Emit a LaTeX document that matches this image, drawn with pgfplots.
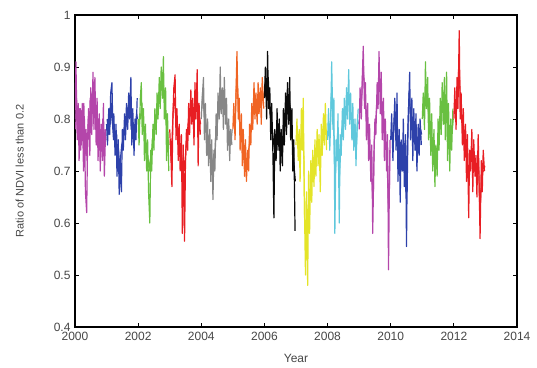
\documentclass[border=0pt]{standalone}
\usepackage{pgfplots}
\usepackage{pgfplotstable}
\pgfplotsset{compat=1.18}
\usepackage{fontspec}
\setmainfont{Liberation Sans}
\definecolor{cMag}{RGB}{180,70,170}
\definecolor{cBlue}{RGB}{45,65,170}
\definecolor{cGreen}{RGB}{105,192,65}
\definecolor{cRed}{RGB}{232,30,35}
\definecolor{cGray}{RGB}{135,135,135}
\definecolor{cOrange}{RGB}{240,100,35}
\definecolor{cBlack}{RGB}{10,10,10}
\definecolor{cYellow}{RGB}{228,228,40}
\definecolor{cCyan}{RGB}{95,200,220}
\definecolor{txt}{RGB}{70,70,70}

% primary samples
\pgfplotstableread{
f    a    b    c    d     e     g    h    i    j    k    l     m    n
0.00 0.80 0.79 0.80 0.78  0.80  0.78 0.84 0.75 0.76 0.78 0.76  0.80 0.80
0.03 0.91 0.75 0.75 0.74  0.84  0.83 0.90 0.80 0.82 0.86 0.81  0.85 0.86
0.07 0.76 0.82 0.84 0.67  0.88  0.76 0.80 0.72 0.74 0.80 0.72  0.78 0.78
0.10 0.83 0.77 0.87 0.80  0.76  0.85 0.93 0.78 0.80 0.88 0.79  0.91 0.88
0.13 0.72 0.85 0.77 0.86  0.83  0.93 0.82 0.68 0.91 0.94 0.84  0.82 0.82
0.17 0.82 0.87 0.82 0.885 0.73  0.80 0.86 0.82 0.78 0.82 0.74  0.88 0.97
0.20 0.75 0.78 0.72 0.76  0.80  0.84 0.76 0.74 0.84 0.87 0.85  0.76 0.80
0.23 0.83 0.81 0.79 0.82  0.71  0.74 0.83 0.84 0.58 0.76 0.68  0.84 0.85
0.27 0.70 0.73 0.70 0.72  0.78  0.81 0.73 0.62 0.76 0.83 0.78  0.73 0.75
0.30 0.80 0.79 0.76 0.79  0.68  0.71 0.61 0.50 0.72 0.72 0.64  0.81 0.82
0.33 0.66 0.69 0.66 0.70  0.76  0.78 0.78 0.66 0.81 0.79 0.76  0.70 0.72
0.37 0.62 0.76 0.60 0.77  0.645 0.69 0.72 0.48 0.60 0.68 0.70  0.78 0.79
0.40 0.76 0.655 0.74 0.58 0.74  0.76 0.82 0.70 0.77 0.75 0.80  0.67 0.68
0.43 0.82 0.72 0.70 0.75  0.70  0.68 0.74 0.58 0.73 0.58 0.67  0.75 0.77
0.47 0.73 0.66 0.79 0.565 0.81  0.74 0.80 0.72 0.82 0.73 0.77  0.69 0.61
0.50 0.86 0.78 0.74 0.72  0.76  0.70 0.70 0.64 0.76 0.80 0.555 0.80 0.74
0.53 0.77 0.74 0.82 0.78  0.85  0.79 0.78 0.74 0.84 0.77 0.75  0.74 0.70
0.57 0.89 0.81 0.77 0.74  0.80  0.75 0.71 0.67 0.78 0.87 0.83  0.84 0.78
0.60 0.78 0.76 0.85 0.83  0.90  0.83 0.82 0.76 0.86 0.82 0.89  0.77 0.66
0.63 0.88 0.83 0.80 0.77  0.81  0.78 0.75 0.69 0.80 0.93 0.76  0.87 0.76
0.67 0.75 0.78 0.88 0.856 0.86  0.87 0.85 0.78 0.895 0.81 0.84 0.79 0.69
0.70 0.84 0.85 0.82 0.79  0.78  0.80 0.77 0.71 0.79 0.89 0.72  0.88 0.73
0.73 0.72 0.80 0.90 0.84  0.88  0.85 0.87 0.77 0.85 0.76 0.82  0.76 0.65
0.77 0.81 0.88 0.84 0.75  0.79  0.79 0.79 0.66 0.76 0.84 0.74  0.89 0.77
0.80 0.70 0.75 0.92 0.87  0.84  0.87 0.88 0.79 0.83 0.72 0.81  0.72 0.68
0.83 0.79 0.82 0.80 0.80  0.74  0.81 0.76 0.73 0.74 0.80 0.70  0.83 0.57
0.87 0.72 0.73 0.86 0.895 0.80  0.86 0.82 0.81 0.80 0.70 0.79  0.70 0.72
0.90 0.83 0.80 0.72 0.71  0.72  0.79 0.70 0.75 0.71 0.77 0.73  0.80 0.66
0.93 0.69 0.76 0.81 0.83  0.78  0.88 0.76 0.83 0.78 0.51 0.80  0.74 0.74
0.97 0.78 0.84 0.70 0.77  0.75  0.83 0.585 0.74 0.82 0.74 0.75 0.82 0.70
}\ndvi

% intermediate samples
\pgfplotstableread{
f    a    b    c    d    e    g    h    i    j    k    l    m    n
0.02 0.78 0.80 0.78 0.76 0.82 0.80 0.87 0.77 0.79 0.82 0.78 0.82 0.83
0.05 0.84 0.77 0.81 0.72 0.86 0.80 0.85 0.76 0.78 0.83 0.76 0.81 0.82
0.08 0.79 0.81 0.80 0.77 0.82 0.81 0.87 0.75 0.77 0.84 0.76 0.84 0.83
0.12 0.76 0.79 0.83 0.83 0.80 0.88 0.88 0.73 0.85 0.90 0.81 0.86 0.85
0.15 0.82 0.83 0.79 0.84 0.79 0.86 0.84 0.76 0.84 0.88 0.79 0.85 0.89
0.18 0.74 0.80 0.78 0.81 0.77 0.82 0.81 0.78 0.81 0.85 0.79 0.82 0.88
0.22 0.80 0.76 0.76 0.79 0.76 0.79 0.80 0.79 0.72 0.81 0.76 0.80 0.82
0.25 0.77 0.79 0.75 0.78 0.75 0.77 0.78 0.72 0.70 0.79 0.73 0.78 0.80
0.28 0.83 0.75 0.74 0.76 0.74 0.76 0.76 0.58 0.74 0.77 0.71 0.77 0.78
0.32 0.73 0.77 0.72 0.75 0.73 0.75 0.74 0.60 0.77 0.75 0.70 0.75 0.77
0.35 0.78 0.73 0.70 0.74 0.72 0.73 0.75 0.56 0.70 0.73 0.73 0.74 0.75
0.38 0.72 0.74 0.72 0.73 0.71 0.72 0.76 0.62 0.69 0.72 0.75 0.73 0.74
0.42 0.80 0.70 0.73 0.70 0.72 0.72 0.78 0.64 0.75 0.66 0.73 0.71 0.72
0.45 0.76 0.73 0.76 0.72 0.76 0.72 0.77 0.66 0.78 0.66 0.72 0.72 0.69
0.48 0.84 0.75 0.77 0.70 0.78 0.73 0.75 0.68 0.79 0.76 0.66 0.75 0.68
0.52 0.79 0.76 0.79 0.75 0.80 0.75 0.74 0.69 0.80 0.79 0.66 0.77 0.72
0.55 0.85 0.78 0.78 0.76 0.82 0.77 0.75 0.70 0.81 0.82 0.79 0.79 0.74
0.58 0.81 0.77 0.81 0.79 0.84 0.78 0.76 0.72 0.82 0.84 0.85 0.80 0.72
0.62 0.83 0.79 0.82 0.80 0.85 0.80 0.78 0.72 0.83 0.87 0.82 0.82 0.71
0.65 0.78 0.80 0.84 0.81 0.84 0.82 0.80 0.73 0.84 0.87 0.80 0.83 0.72
0.68 0.81 0.82 0.85 0.82 0.83 0.83 0.81 0.74 0.84 0.85 0.78 0.84 0.71
0.72 0.76 0.81 0.86 0.82 0.82 0.83 0.82 0.75 0.82 0.82 0.77 0.82 0.69
0.75 0.80 0.84 0.87 0.80 0.83 0.83 0.83 0.72 0.80 0.80 0.78 0.82 0.71
0.78 0.74 0.78 0.88 0.81 0.81 0.84 0.84 0.74 0.79 0.78 0.78 0.80 0.72
0.82 0.78 0.80 0.85 0.84 0.79 0.84 0.82 0.76 0.78 0.76 0.76 0.78 0.63
0.85 0.75 0.77 0.83 0.85 0.77 0.84 0.79 0.77 0.77 0.75 0.75 0.76 0.65
0.88 0.80 0.78 0.80 0.83 0.76 0.83 0.76 0.78 0.76 0.74 0.76 0.75 0.69
0.92 0.74 0.79 0.78 0.78 0.75 0.84 0.73 0.79 0.75 0.64 0.77 0.77 0.70
0.95 0.78 0.81 0.76 0.80 0.76 0.85 0.70 0.78 0.80 0.63 0.78 0.78 0.70
0.98 0.76 0.80 0.75 0.79 0.78 0.82 0.68 0.77 0.79 0.76 0.77 0.80 0.71
}\ndvib

\begin{document}
\begin{tikzpicture}
\useasboundingbox (-75pt,-40pt) rectangle (462pt,327pt);
\begin{axis}[
  scale only axis,
  width=442pt, height=312pt,
  xmin=2000, xmax=2014, ymin=0.4, ymax=1,
  xtick={2000,2002,...,2014},
  ytick={0.4,0.5,...,1.0},
  yticklabels={0.4,0.5,0.6,0.7,0.8,0.9,1},
  minor x tick num=9,
  tick align=inside,
  major tick length=4pt,
  minor tick length=2pt,
  every tick/.style={black, line width=0.8pt},
  axis line style={black, line width=1.3pt},
  /pgf/number format/assume math mode=true,
  x tick label style={/pgf/number format/1000 sep={}, font=\fontsize{12}{14}\selectfont, text=txt, yshift=-2pt},
  y tick label style={font=\fontsize{12}{14}\selectfont, text=txt, xshift=-1pt},
  xlabel={Year},
  ylabel={Ratio of NDVI less than 0.2},
  xlabel style={font=\fontsize{12}{14}\selectfont, text=txt, at={(axis description cs:0.5,-0.1)}, anchor=center},
  ylabel style={font=\fontsize{11}{13}\selectfont, text=txt, at={(axis description cs:-0.125,0.5)}, anchor=center},
  clip=true,
  every axis plot/.append style={line width=1.2pt, line join=round},
]
\addplot[cMag] table[x expr=\thisrow{f}+2000, y=a] {\ndvib};
\addplot[cBlue] table[x expr=\thisrow{f}+2001, y=b] {\ndvib};
\addplot[cGreen] table[x expr=\thisrow{f}+2002, y=c] {\ndvib};
\addplot[cRed] table[x expr=\thisrow{f}+2003, y=d] {\ndvib};
\addplot[cGray] table[x expr=\thisrow{f}+2004, y=e] {\ndvib};
\addplot[cOrange] table[x expr=\thisrow{f}+2005, y=g] {\ndvib};
\addplot[cBlack] table[x expr=\thisrow{f}+2006, y=h] {\ndvib};
\addplot[cYellow] table[x expr=\thisrow{f}+2007, y=i] {\ndvib};
\addplot[cCyan] table[x expr=\thisrow{f}+2008, y=j] {\ndvib};
\addplot[cMag] table[x expr=\thisrow{f}+2009, y=k] {\ndvib};
\addplot[cBlue] table[x expr=\thisrow{f}+2010, y=l] {\ndvib};
\addplot[cGreen] table[x expr=\thisrow{f}+2011, y=m] {\ndvib};
\addplot[cRed] table[x expr=\thisrow{f}+2012, y=n] {\ndvib};
\addplot[cMag] table[x expr=\thisrow{f}+2000, y=a] {\ndvi};
\addplot[cBlue] table[x expr=\thisrow{f}+2001, y=b] {\ndvi};
\addplot[cGreen] table[x expr=\thisrow{f}+2002, y=c] {\ndvi};
\addplot[cRed] table[x expr=\thisrow{f}+2003, y=d] {\ndvi};
\addplot[cGray] table[x expr=\thisrow{f}+2004, y=e] {\ndvi};
\addplot[cOrange] table[x expr=\thisrow{f}+2005, y=g] {\ndvi};
\addplot[cBlack] table[x expr=\thisrow{f}+2006, y=h] {\ndvi};
\addplot[cYellow] table[x expr=\thisrow{f}+2007, y=i] {\ndvi};
\addplot[cCyan] table[x expr=\thisrow{f}+2008, y=j] {\ndvi};
\addplot[cMag] table[x expr=\thisrow{f}+2009, y=k] {\ndvi};
\addplot[cBlue] table[x expr=\thisrow{f}+2010, y=l] {\ndvi};
\addplot[cGreen] table[x expr=\thisrow{f}+2011, y=m] {\ndvi};
\addplot[cRed] table[x expr=\thisrow{f}+2012, y=n] {\ndvi};
\end{axis}
\end{tikzpicture}
\end{document}
